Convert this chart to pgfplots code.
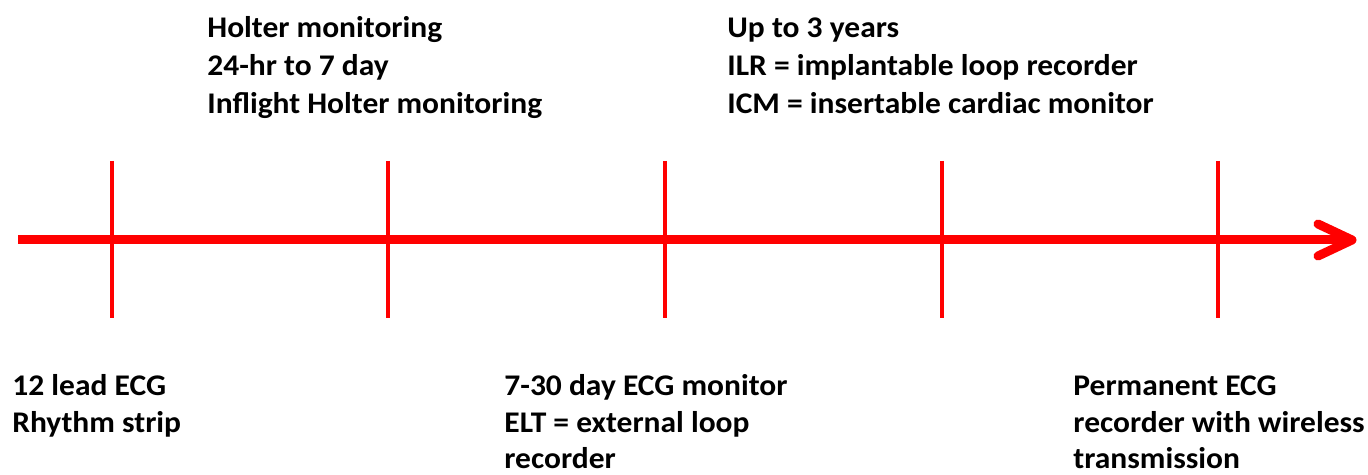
\documentclass[border=0pt]{standalone}
\usepackage{pgfplots}
\pgfplotsset{compat=1.18}
\usepackage{graphicx}
\usepackage{fontspec}
\setmainfont{Carlito}
\definecolor{tlred}{RGB}{255,0,0}
\begin{document}
\begin{tikzpicture}
\tikzset{lbl/.style={anchor=base west, inner sep=0pt, font=\fontsize{15pt}{18pt}\selectfont\bfseries}}
\newcommand\lbl[3]{\node[lbl] at (axis cs:#1,#2) {\scalebox{1.05}[1]{#3}};}
\begin{axis}[
  width=684pt, height=237.5pt, scale only axis,
  xmin=0, xmax=1368, ymin=0, ymax=475, y dir=reverse,
  hide axis, clip=false,
]
\draw[draw=none] (axis cs:0,0) rectangle (axis cs:1368,475);
% main timeline
\addplot[tlred, line width=4.5pt, line cap=butt] coordinates {(18,240) (1350,240)};
\addplot[tlred, line width=4.5pt, line cap=round, line join=round] coordinates {(1318,224) (1352,240) (1318,256)};
% tick marks
\addplot[tlred, line width=2.2pt, unbounded coords=jump] coordinates {
 (112,161) (112,318) (112,nan)
 (388,161) (388,318) (388,nan)
 (665,161) (665,318) (665,nan)
 (942,161) (942,318) (942,nan)
 (1218,161) (1218,318)
};
% top left
\lbl{207}{38}{Holter monitoring}
\lbl{207}{76}{24-hr to 7 day}
\lbl{207}{114}{Inflight Holter monitoring}
% top right
\lbl{727}{38}{Up to 3 years}
\lbl{727}{76}{ILR = implantable loop recorder}
\lbl{727}{114}{ICM = insertable cardiac monitor}
% bottom
\lbl{12}{395}{12 lead ECG}
\lbl{12}{432}{Rhythm strip}
\lbl{504}{395}{7-30 day ECG monitor}
\lbl{504}{432}{ELT = external loop}
\lbl{504}{468}{recorder}
\lbl{1073}{395}{Permanent ECG}
\lbl{1073}{432}{recorder with wireless}
\lbl{1073}{468}{transmission}
\end{axis}
\end{tikzpicture}
\end{document}
